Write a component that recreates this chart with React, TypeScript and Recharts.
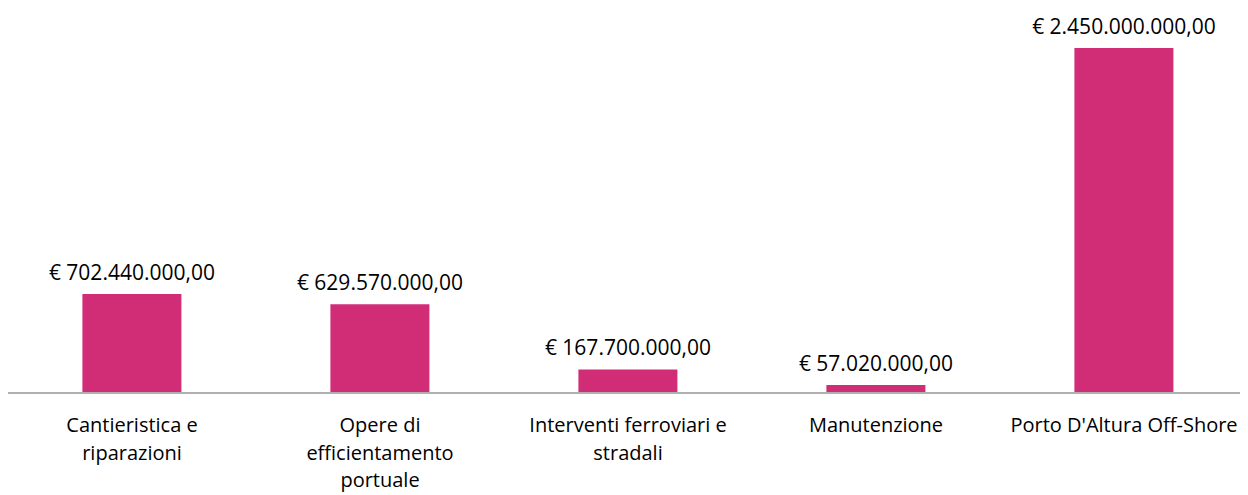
import { BarChart, Bar, XAxis, YAxis, LabelList } from 'recharts';

const categories = [
  'Cantieristica e\nriparazioni',
  'Opere di\nefficientamento\nportuale',
  'Interventi ferroviari e\nstradali',
  'Manutenzione',
  "Porto D'Altura Off-Shore",
];
const importi = [702440000, 629570000, 167700000, 57020000, 2450000000];

const data = categories.map((name, i) => ({ name, value: importi[i] }));

const FONT = '"Open Sans", sans-serif';

const euro = (v: number) =>
  '€ ' +
  v.toLocaleString('it-IT', { minimumFractionDigits: 2, maximumFractionDigits: 2, useGrouping: true });

function CategoryTick(props: any) {
  const { x, y, payload } = props;
  const lines = String(payload.value).split('\n');
  return (
    <g transform={`translate(${x},${y})`}>
      {lines.map((l, i) => (
        <text
          key={i}
          x={0}
          y={31 + i * 27.5}
          textAnchor="middle"
          fill="#000"
          fontSize={20}
          fontFamily={FONT}
        >
          {l}
        </text>
      ))}
    </g>
  );
}

function ValueLabel(props: any) {
  const { x, y, width, value } = props;
  return (
    <text
      x={x + width / 2}
      y={y - 14}
      textAnchor="middle"
      fill="#000"
      fontSize={21}
      fontFamily={FONT}
    >
      {euro(Number(value))}
    </text>
  );
}

export default function App() {
  return (
    <BarChart
      width={1240}
      height={487}
      data={data}
      margin={{ top: 40, right: 0, bottom: 0, left: 0 }}
      barCategoryGap="30%"
    >
      <XAxis
        dataKey="name"
        axisLine={{ stroke: '#B0B0B0', strokeWidth: 2 }}
        tickLine={false}
        tick={<CategoryTick />}
        height={102}
        interval={0}
      />
      <YAxis hide domain={[0, 2450000000]} />
      <Bar dataKey="value" fill="#D12C76" isAnimationActive={false}>
        <LabelList dataKey="value" content={<ValueLabel />} />
      </Bar>
    </BarChart>
  );
}
